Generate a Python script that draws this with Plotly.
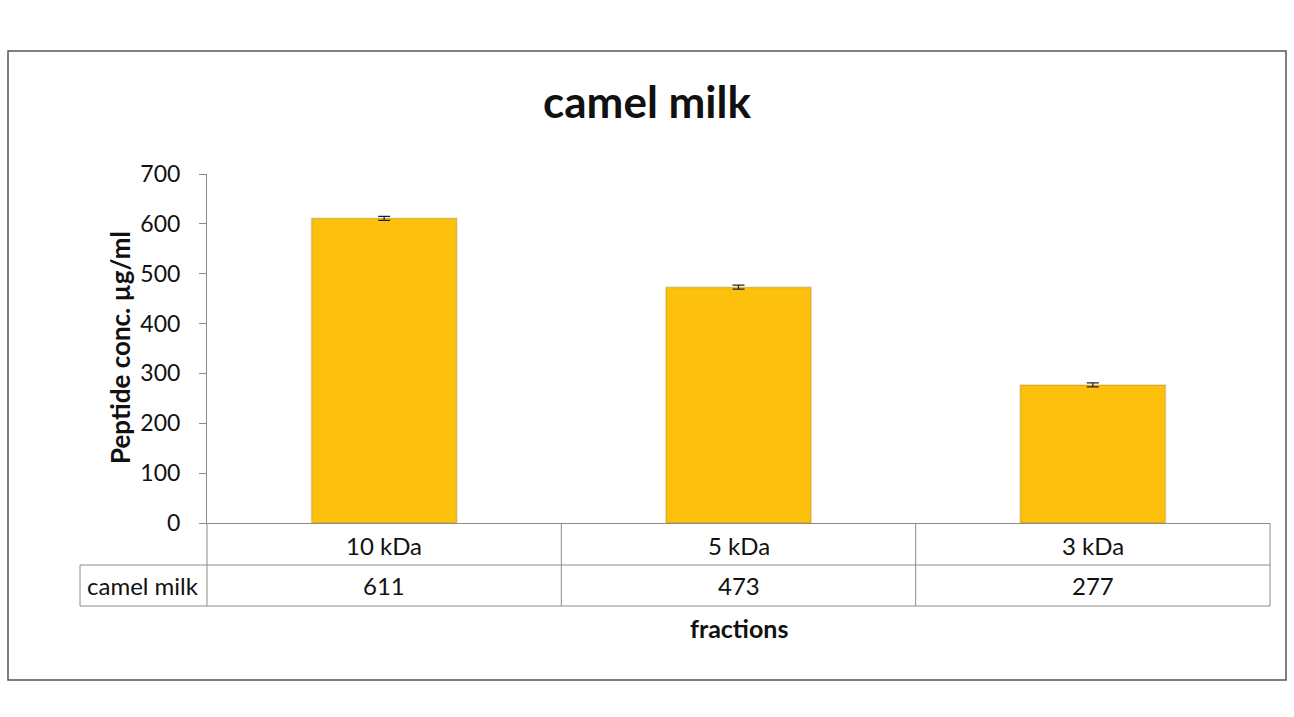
import plotly.graph_objects as go

categories = ["10 kDa", "5 kDa", "3 kDa"]
values = [611, 473, 277]
errors = [4, 4, 4]
series_name = "camel milk"
y_ticks = [0, 100, 200, 300, 400, 500, 600, 700]

W, H = 1294, 717
L, R, T, B = 207, 1270, 174, 523  # plot area in pixels
pw, ph = R - L, B - T

def px_x(p):
    return (p - L) / pw

def px_y(p):
    return (B - p) / ph

FONT = "Lato, Carlito, Calibri, sans-serif"
GRID = "#8c8c8c"
TXT = "#111111"

fig = go.Figure()
fig.add_trace(go.Bar(
    x=categories, y=values,
    marker=dict(color="#FDC00C", line=dict(color="rgba(0,0,0,0.10)", width=2)),
    error_y=dict(type="data", array=errors, visible=True, color="#222222",
                 thickness=1.2, width=6),
    showlegend=False,
))

shapes = []
n = len(categories)
row1 = px_y(565)
row2 = px_y(606)
line = dict(color=GRID, width=1)
shapes.append(dict(type="line", xref="paper", yref="paper", x0=px_x(80), x1=1, y0=row1, y1=row1, line=line))
shapes.append(dict(type="line", xref="paper", yref="paper", x0=px_x(80), x1=1, y0=row2, y1=row2, line=line))
shapes.append(dict(type="line", xref="paper", yref="paper", x0=px_x(80), x1=px_x(80), y0=row1, y1=row2, line=line))
for i in range(n + 1):
    xx = i / n
    shapes.append(dict(type="line", xref="paper", yref="paper", x0=xx, x1=xx, y0=0, y1=row2, line=line))
# outer chart border
shapes.append(dict(type="rect", xref="paper", yref="paper",
                   x0=px_x(8), x1=px_x(1286), y0=px_y(680), y1=px_y(51),
                   line=dict(color="#555555", width=1.5)))

def ann(x, y, text, size, angle=0):
    return dict(x=x, y=y, xref="paper", yref="paper", text=text, showarrow=False,
                xanchor="center", yanchor="middle", textangle=angle,
                font=dict(size=size, color=TXT, family=FONT))

annotations = []
for i, (c, v) in enumerate(zip(categories, values)):
    xc = (i + 0.5) / n
    annotations.append(ann(xc, px_y(545), c, 24))
    annotations.append(ann(xc, px_y(585), str(v), 24))
annotations.append(ann(px_x(143), px_y(585), series_name, 24))
annotations.append(ann(0.5, px_y(628), "<b>fractions</b>", 25))
annotations.append(ann(px_x(120), px_y(348), "<b>Peptide conc. µg/ml</b>", 26, -90))

fig.update_layout(
    width=W, height=H,
    margin=dict(l=L, r=W - R, t=T, b=H - B),
    paper_bgcolor="white", plot_bgcolor="white",
    title=dict(text="<b>camel milk</b>", x=0.5, xanchor="center", y=1 - 103 / H,
               yanchor="middle", font=dict(size=44, color=TXT, family=FONT)),
    bargap=0.59,
    xaxis=dict(showticklabels=False, ticks="", showline=True, linecolor=GRID, linewidth=1,
               showgrid=False, zeroline=False, range=[-0.5, n - 0.5]),
    yaxis=dict(range=[0, 700], tickvals=y_ticks, ticks="outside", ticklen=7, tickcolor=GRID,
               ticklabelstandoff=14,
               showline=True, linecolor=GRID, linewidth=1, showgrid=False, zeroline=False,
               tickfont=dict(size=23, color=TXT, family=FONT)),
    shapes=shapes, annotations=annotations,
    font=dict(family=FONT),
)

fig.write_html("out.html")
